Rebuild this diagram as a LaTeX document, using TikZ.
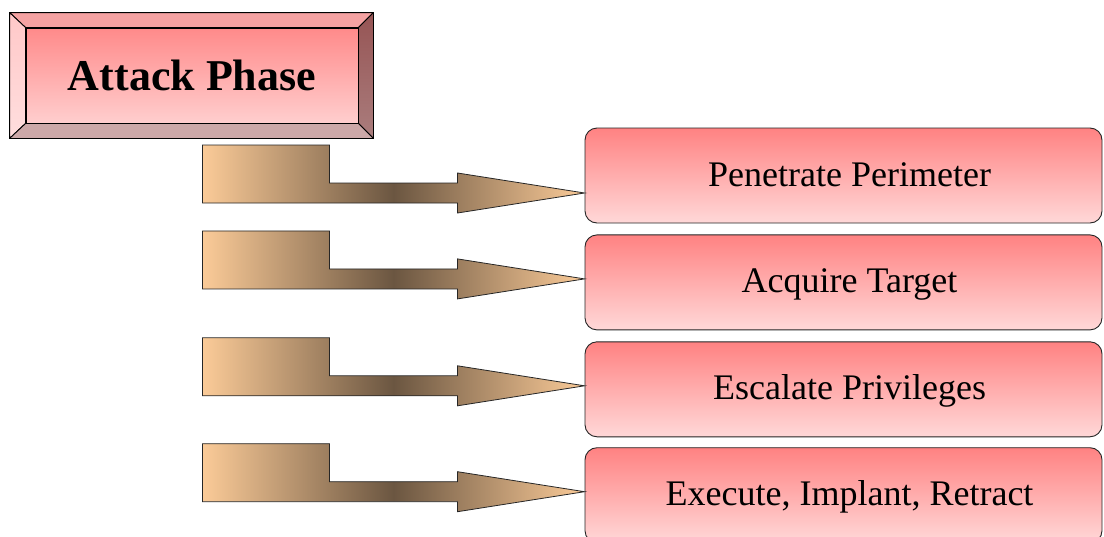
\documentclass[tikz,border=0pt]{standalone}
\usepackage{fontspec}
\setmainfont{Liberation Serif}
\usetikzlibrary{positioning,calc}

\definecolor{peach}{HTML}{FBCB98}
\definecolor{umber}{HTML}{6B5641}
\definecolor{rosetop}{HTML}{FF8282}
\definecolor{rosebot}{HTML}{FFD8D8}
\definecolor{facetop}{HTML}{FF8A8A}
\definecolor{facebot}{HTML}{FFCECE}

\begin{document}
\begin{tikzpicture}[x=1pt,y=-1pt]
\tikzset{
  stage/.style={rectangle, rounded corners=12pt, draw=black!85, line width=0.9pt,
    top color=rosetop, bottom color=rosebot, minimum width=517pt, minimum height=95pt,
    inner sep=0pt, text height=28pt, text depth=7pt,
    execute at begin node=\hspace*{12pt}, font=\fontsize{36}{42}\selectfont},
  phase/.style={rectangle, draw=black, line width=0.9pt, top color=facetop, bottom color=facebot,
    minimum width=332pt, minimum height=95pt, inner sep=0pt, font=\bfseries\fontsize{44}{52}\selectfont},
  bevel/.style={draw=black, line width=0.9pt, line join=round},
  stagearrow/.pic={
    \path[draw=black!85, line width=0.8pt, left color=peach, right color=peach, middle color=umber]
      (0,0) -- ++(-127,20) -- ++(0,-10) -- ++(-255,0) -- ++(0,-58) -- ++(127,0)
      -- ++(0,38) -- ++(128,0) -- ++(0,-10) -- cycle;
  }
}
\useasboundingbox (0,0) rectangle (1104,536);

% title block with bevelled frame
\node[phase] (phase) at (192,75.5) {Attack Phase};
\coordinate (onw) at ($(phase.north west)+(-16,-15)$);
\coordinate (one) at ($(phase.north east)+(15,-15)$);
\coordinate (osw) at ($(phase.south west)+(-16,15)$);
\coordinate (ose) at ($(phase.south east)+(15,15)$);
\fill[bevel, fill={rgb,255:red,245;green,162;blue,162}] (onw) -- (one) -- (phase.north east) -- (phase.north west) -- cycle;
\fill[bevel, top color={rgb,255:red,255;green,200;blue,200}, bottom color={rgb,255:red,255;green,222;blue,222}] (onw) -- (phase.north west) -- (phase.south west) -- (osw) -- cycle;
\fill[bevel, top color={rgb,255:red,150;green,84;blue,84}, bottom color={rgb,255:red,170;green,125;blue,125}] (one) -- (ose) -- (phase.south east) -- (phase.north east) -- cycle;
\fill[bevel, fill={rgb,255:red,204;green,168;blue,168}] (osw) -- (phase.south west) -- (phase.south east) -- (ose) -- cycle;
\draw[bevel] (onw) rectangle (ose);
\node[phase] at (phase) {Attack Phase};

% steps of the phase
\node[stage] (penetrate) at (843.5,175.5) {Penetrate Perimeter};
\node[stage, below=11pt of penetrate] (acquire) {Acquire Target};
\node[stage, below=11pt of acquire] (escalate) {Escalate Privileges};
\node[stage, below=10pt of escalate] (execute) {Execute, Implant, Retract};

% block arrows into the steps
\pic at ($(penetrate.west)+(0,17.5)$) {stagearrow};
\pic at ($(acquire.west)+(0,-3.5)$) {stagearrow};
\pic at ($(escalate.west)+(0,-3.5)$) {stagearrow};
\pic at ($(execute.west)+(0,-3.5)$) {stagearrow};
\end{tikzpicture}
\end{document}
